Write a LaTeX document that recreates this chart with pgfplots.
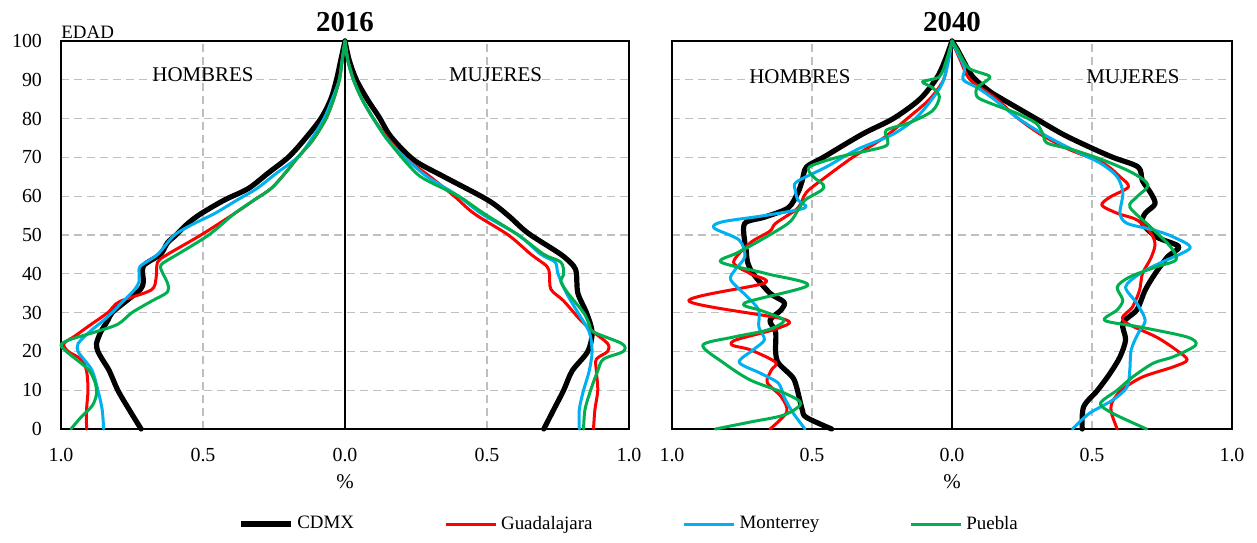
\documentclass[border=0pt]{standalone}
\usepackage{fontspec}
\setmainfont{Liberation Serif}
\usepackage{pgfplots}
\pgfplotsset{compat=1.18}
\definecolor{cdmx}{RGB}{0,0,0}
\definecolor{gdl}{RGB}{255,0,0}
\definecolor{mty}{RGB}{0,176,240}
\definecolor{pue}{RGB}{0,176,80}
\definecolor{gridc}{RGB}{191,191,191}
\pgfplotsset{
  pyr/.style={
    scale only axis, height=194bp,
    xmin=-1, xmax=1, ymin=0, ymax=100,
    xtick={-1,-0.5,0,0.5,1}, xticklabels={1.0,0.5,0.0,0.5,1.0},
    ytick={0,10,...,100},
    grid=major,
    major grid style={gridc, line width=0.6bp, dash pattern=on 4bp off 2.5bp},
    extra x ticks={0}, extra x tick labels={},
    extra x tick style={grid=major, major grid style={solid, black, line width=0.7bp}},
    major tick length=0pt,
    axis line style={line width=0.9bp},
    tick label style={font=\fontsize{10}{12}\selectfont},
    xticklabel style={yshift=-6bp},
    yticklabel style={xshift=-6bp},
    /pgf/number format/assume math mode=true,
    clip=false,
  },
  lc/.style={cdmx, line width=2.6bp, smooth, line join=round, line cap=round, forget plot},
  lg/.style={gdl, line width=1.5bp, smooth, line join=round, line cap=round, forget plot},
  lm/.style={mty, line width=1.5bp, smooth, line join=round, line cap=round, forget plot},
  lp/.style={pue, line width=1.5bp, smooth, line join=round, line cap=round, forget plot},
}
\begin{document}
\begin{tikzpicture}
\useasboundingbox (-30.5bp,-57bp) rectangle (598bp,214.5bp);
% ---------------- 2016 ----------------
\begin{axis}[pyr, width=284bp,
  legend columns=4,
  legend style={at={(axis description cs:1.0018,-0.245)}, anchor=center, draw=none, fill=none,
    font=\fontsize{9.5}{11}\selectfont, inner sep=0pt,
    /tikz/every even column/.append style={column sep=43bp}},
  legend image code/.code={\draw[#1] (0bp,0bp) -- (25bp,0bp);},
]
\addlegendimage{cdmx, line width=2.6bp}\addlegendentry{CDMX}
\addlegendimage{gdl, line width=1.5bp}\addlegendentry{Guadalajara}
\addlegendimage{mty, line width=1.5bp}\addlegendentry{Monterrey}
\addlegendimage{pue, line width=1.5bp}\addlegendentry{Puebla}
% CDMX
\addplot[lc] coordinates {(-0.718,0)(-0.76,5)(-0.80,10)(-0.83,15)(-0.855,18)(-0.87,20)(-0.875,22)(-0.86,25)(-0.835,28)(-0.82,30)(-0.77,33)(-0.72,36)(-0.71,38)(-0.71,42)(-0.65,45)(-0.625,48)(-0.595,50)(-0.553,53)(-0.507,55.5)(-0.425,59)(-0.34,62)(-0.27,66)(-0.20,70)(-0.144,74.5)(-0.085,80)(-0.05,85)(-0.03,90)(-0.015,95)(0,100)};
\addplot[lc] coordinates {(0.70,0)(0.735,5)(0.77,10)(0.80,15)(0.855,20)(0.87,25)(0.85,30)(0.82,35)(0.815,40)(0.805,42)(0.76,45)(0.644,50.5)(0.575,55)(0.503,59)(0.349,65)(0.243,69.3)(0.162,75.3)(0.12,80.4)(0.08,84.8)(0.04,90)(0.015,95)(0,100)};
% Guadalajara
\addplot[lg] coordinates {(-0.91,0)(-0.91,5)(-0.905,10)(-0.91,15)(-0.93,18)(-0.975,20)(-0.99,22)(-0.95,24)(-0.905,26.4)(-0.835,30)(-0.795,32.8)(-0.683,35.8)(-0.665,39)(-0.66,43)(-0.625,45)(-0.507,50)(-0.39,55.5)(-0.32,59)(-0.26,62)(-0.21,66)(-0.166,70)(-0.113,74.5)(-0.067,80)(-0.04,85)(-0.02,90)(-0.01,95)(0,100)};
\addplot[lg] coordinates {(0.875,0)(0.88,5)(0.89,10)(0.885,15)(0.885,18)(0.925,20)(0.925,22)(0.875,25)(0.83,28)(0.77,33)(0.725,36)(0.72,40)(0.71,42)(0.655,45)(0.575,50)(0.455,55.5)(0.385,60)(0.30,65)(0.21,70)(0.15,75)(0.10,80)(0.06,85)(0.03,90)(0.01,95)(0,100)};
% Monterrey
\addplot[lm] coordinates {(-0.85,0)(-0.855,5)(-0.87,10)(-0.89,15)(-0.92,18)(-0.94,20)(-0.94,22)(-0.90,25)(-0.85,28)(-0.82,30)(-0.78,33)(-0.74,36)(-0.725,38)(-0.725,40)(-0.72,42)(-0.66,45)(-0.60,50)(-0.53,53)(-0.46,55.5)(-0.38,59)(-0.31,62)(-0.24,66)(-0.167,70)(-0.12,74.5)(-0.074,80)(-0.045,85)(-0.02,90)(-0.01,95)(0,100)};
\addplot[lm] coordinates {(0.825,0)(0.825,5)(0.84,10)(0.86,15)(0.87,20)(0.86,25)(0.82,30)(0.78,35)(0.75,40)(0.74,43)(0.69,45)(0.61,50)(0.48,55.5)(0.40,60)(0.29,65)(0.21,70)(0.145,75)(0.10,80)(0.06,85)(0.03,90)(0.01,95)(0,100)};
% Puebla
\addplot[lp] coordinates {(-0.965,0)(-0.93,3)(-0.89,6)(-0.875,9)(-0.88,12)(-0.90,15)(-0.93,17)(-0.975,19.6)(-1.0,21.6)(-0.97,23)(-0.88,25)(-0.80,27)(-0.75,30)(-0.68,33)(-0.625,35.3)(-0.625,37.6)(-0.65,41.8)(-0.625,43.5)(-0.59,45)(-0.48,50)(-0.39,55.5)(-0.32,59)(-0.26,62)(-0.21,66)(-0.166,70)(-0.113,74.5)(-0.067,80)(-0.04,85)(-0.02,90)(-0.01,95)(0,100)};
\addplot[lp] coordinates {(0.84,0)(0.845,5)(0.865,10)(0.89,15)(0.91,18)(0.98,20)(0.975,22)(0.875,25)(0.86,27)(0.84,30)(0.785,35)(0.76,38)(0.77,40)(0.76,43)(0.70,45)(0.61,50)(0.49,55.5)(0.40,60)(0.29,64)(0.25,66)(0.20,70)(0.145,75)(0.10,80)(0.06,85)(0.03,90)(0.01,95)(0,100)};
\node[font=\fontsize{10.5}{12}\selectfont] at (axis cs:-0.5,91.2) {HOMBRES};
\node[font=\fontsize{10.5}{12}\selectfont] at (axis cs:0.53,91.2) {MUJERES};
\node[font=\bfseries\fontsize{14.5}{16}\selectfont] at (axis description cs:0.5,1) [yshift=9.5bp] {2016};
\node[font=\fontsize{9.5}{11}\selectfont, anchor=west, inner sep=0pt] at (axis description cs:0,1) [yshift=4.5bp] {EDAD};
\node[font=\fontsize{10.5}{12}\selectfont] at (axis description cs:0.5,0) [yshift=-26.5bp] {\%};
\end{axis}
% ---------------- 2040 ----------------
\begin{axis}[pyr, width=280bp, at={(305.5bp,0)}, yticklabels={}]
% CDMX
\addplot[lc] coordinates {(-0.43,0)(-0.52,3)(-0.535,5)(-0.555,10.8)(-0.57,13.4)(-0.62,17)(-0.63,20)(-0.63,25)(-0.65,28)(-0.61,30.7)(-0.60,32.7)(-0.65,35)(-0.71,40)(-0.73,43)(-0.735,46)(-0.74,48)(-0.74,53)(-0.67,54.6)(-0.585,57)(-0.55,61)(-0.535,64)(-0.52,67.5)(-0.46,70)(-0.32,76)(-0.21,80)(-0.115,85)(-0.055,90.4)(-0.025,95)(0,100)};
\addplot[lc] coordinates {(0.465,0)(0.47,5.7)(0.52,10)(0.565,14.4)(0.60,18.6)(0.62,23)(0.61,27.3)(0.66,30.7)(0.69,35.8)(0.725,40)(0.77,44.4)(0.81,47)(0.73,49.5)(0.68,53)(0.69,55.6)(0.725,58)(0.71,60.8)(0.68,64)(0.665,67.5)(0.575,70)(0.49,72.7)(0.395,76)(0.29,80.4)(0.18,85)(0.135,87)(0.075,90.7)(0.04,95)(0.02,97.7)(0,100)};
% Guadalajara
\addplot[lg] coordinates {(-0.65,0)(-0.59,4.4)(-0.61,8.3)(-0.66,12)(-0.645,15.2)(-0.63,17.2)(-0.72,20.4)(-0.785,21.6)(-0.77,23)(-0.62,26)(-0.60,28.3)(-0.94,33)(-0.67,37.6)(-0.72,40)(-0.78,43)(-0.72,48)(-0.65,51)(-0.63,53)(-0.55,57)(-0.52,61)(-0.45,65)(-0.355,70)(-0.245,75)(-0.16,80)(-0.08,85)(-0.03,90)(-0.015,95)(0,100)};
\addplot[lg] coordinates {(0.59,0)(0.57,4)(0.57,6.6)(0.605,10)(0.68,13.4)(0.79,16)(0.84,17.8)(0.80,20.4)(0.73,23.7)(0.61,28)(0.645,31.5)(0.67,35.8)(0.68,40)(0.71,44)(0.725,47.5)(0.71,50.5)(0.66,53.9)(0.59,55.6)(0.535,57.7)(0.565,59.8)(0.63,62.4)(0.60,65)(0.54,68.5)(0.42,72)(0.315,76)(0.23,80.4)(0.16,85)(0.065,90)(0.03,95)(0,100)};
% Monterrey
\addplot[lm] coordinates {(-0.525,0)(-0.57,4.4)(-0.60,8.3)(-0.62,11.8)(-0.685,14.4)(-0.76,17.2)(-0.71,20.4)(-0.67,23)(-0.69,26.3)(-0.69,30.6)(-0.73,34)(-0.79,38.4)(-0.775,41)(-0.74,44.4)(-0.76,48.7)(-0.85,51.8)(-0.82,53.4)(-0.67,55)(-0.525,57)(-0.55,59)(-0.56,61.6)(-0.555,63.7)(-0.45,67.5)(-0.34,72)(-0.21,76)(-0.125,80.4)(-0.055,86.6)(-0.03,90)(-0.012,95)(0,100)};
\addplot[lm] coordinates {(0.43,0)(0.49,4)(0.575,7.5)(0.625,10.8)(0.635,15.2)(0.64,20.4)(0.665,24.7)(0.69,28)(0.66,32.4)(0.62,36.6)(0.67,40)(0.74,42.7)(0.85,46.6)(0.79,49.5)(0.72,51.3)(0.625,53)(0.60,55.6)(0.61,60.8)(0.59,65)(0.53,68.5)(0.43,72)(0.325,76)(0.23,80.4)(0.15,85)(0.09,88)(0.04,90)(0.045,93)(0.02,97)(0,100)};
% Puebla
\addplot[lp] coordinates {(-0.845,0)(-0.72,1.8)(-0.60,3.6)(-0.54,6.6)(-0.60,9.3)(-0.72,12.6)(-0.815,17)(-0.89,21.6)(-0.78,23.7)(-0.66,25.5)(-0.60,28)(-0.68,30.5)(-0.74,32.5)(-0.515,37)(-0.66,40)(-0.825,43)(-0.77,45.3)(-0.70,48)(-0.585,53)(-0.55,56.4)(-0.525,59)(-0.465,61.6)(-0.46,63)(-0.495,65)(-0.51,67.5)(-0.41,70)(-0.245,72.7)(-0.23,74.5)(-0.235,77)(-0.15,79)(-0.07,82)(-0.045,85.6)(-0.07,88)(-0.105,89.5)(-0.045,90.8)(-0.02,95)(0,100)};
\addplot[lp] coordinates {(0.695,0)(0.575,4)(0.53,6.6)(0.59,10)(0.645,13.4)(0.72,17)(0.79,18.6)(0.87,21.6)(0.84,23.7)(0.67,26.3)(0.545,28)(0.59,30.7)(0.61,33.2)(0.59,36.6)(0.635,39.2)(0.73,41.8)(0.80,43.6)(0.78,47)(0.71,52)(0.635,57.2)(0.66,59.8)(0.70,62.9)(0.645,66)(0.54,69.3)(0.43,72)(0.34,73.7)(0.325,76)(0.30,78.8)(0.23,81.4)(0.135,84)(0.09,85.6)(0.09,88)(0.135,90.8)(0.06,93)(0.02,97.7)(0,100)};
\node[font=\fontsize{10.5}{12}\selectfont] at (axis cs:-0.543,90.7) {HOMBRES};
\node[font=\fontsize{10.5}{12}\selectfont] at (axis cs:0.646,90.7) {MUJERES};
\node[font=\bfseries\fontsize{14.5}{16}\selectfont] at (axis description cs:0.5,1) [yshift=9.5bp] {2040};
\node[font=\fontsize{10.5}{12}\selectfont] at (axis description cs:0.5,0) [yshift=-26.5bp] {\%};
\end{axis}
\end{tikzpicture}
\end{document}
